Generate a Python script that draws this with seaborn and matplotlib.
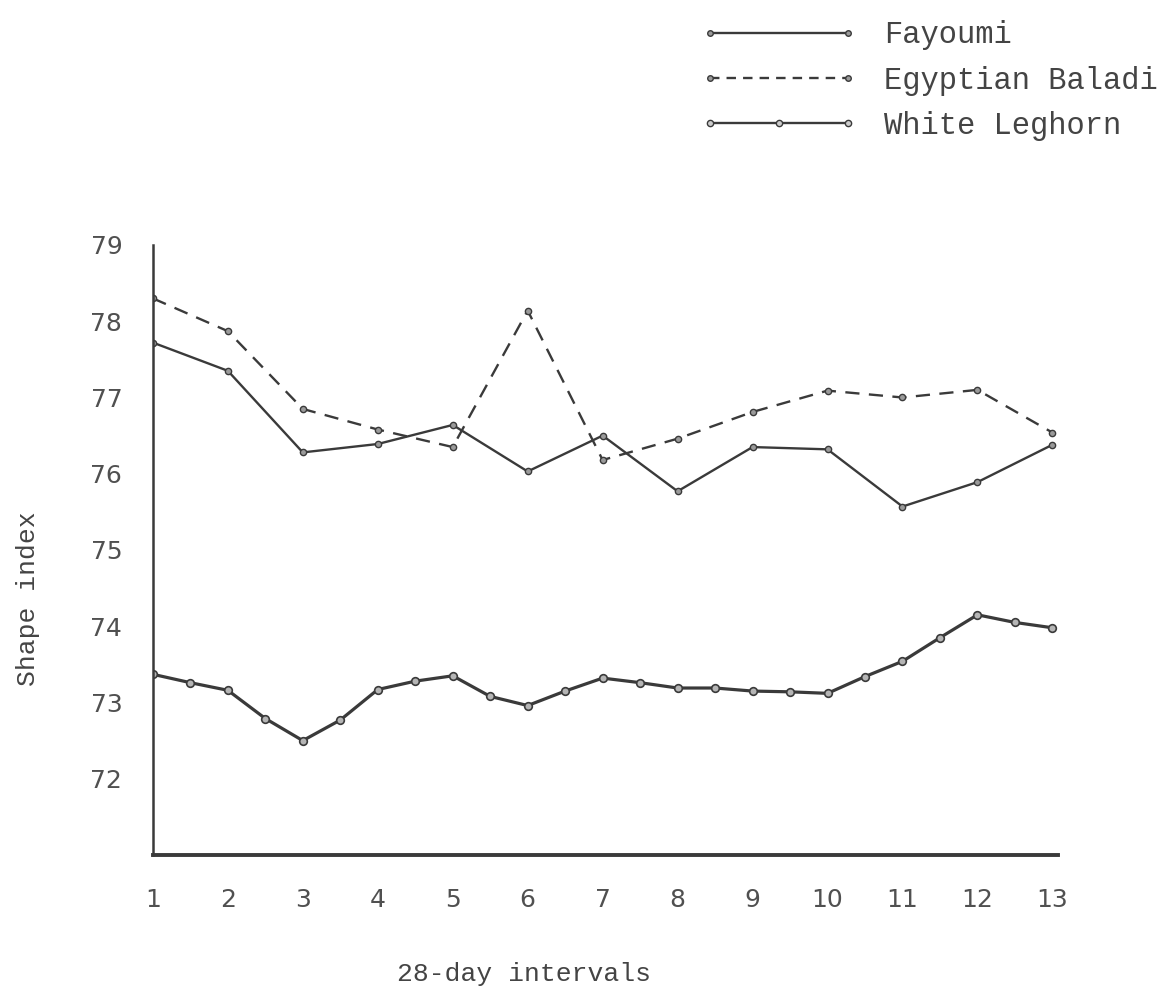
import matplotlib
matplotlib.use('Agg')
import matplotlib.pyplot as plt
import seaborn as sns
from matplotlib.lines import Line2D
from matplotlib.legend_handler import HandlerLine2D

# values (shape index per 28-day interval)
intervals = [1, 2, 3, 4, 5, 6, 7, 8, 9, 10, 11, 12, 13]
fayoumi = [77.72, 77.35, 76.28, 76.39, 76.64, 76.03, 76.50, 75.77, 76.35, 76.32, 75.57, 75.89, 76.38]
baladi = [78.30, 77.87, 76.85, 76.58, 76.35, 78.14, 76.18, 76.46, 76.81, 77.09, 77.00, 77.10, 76.54]

# White Leghorn is plotted at half-interval steps
leghorn_x = [1, 1.5, 2, 2.5, 3, 3.5, 4, 4.5, 5, 5.5, 6, 6.5, 7,
             7.5, 8, 8.5, 9, 9.5, 10, 10.5, 11, 11.5, 12, 12.5, 13]
leghorn = [73.37, 73.26, 73.16, 72.79, 72.50, 72.77, 73.17, 73.28, 73.35, 73.08, 72.96, 73.15, 73.32,
           73.26, 73.19, 73.19, 73.15, 73.14, 73.12, 73.34, 73.54, 73.85, 74.15, 74.05, 73.98]

y_ticks = [72, 73, 74, 75, 76, 77, 78, 79]

sns.set_style('white')
plt.rcParams['font.family'] = ['Liberation Mono', 'DejaVu Sans Mono']

ink = '#3a3a3a'
num_font = dict(family='DejaVu Sans', size=18, color='#505050')

fig = plt.figure(figsize=(11.76, 10.02), dpi=100)
ax = fig.add_axes([0.130, 0.1467, 0.770, 0.6088])

sns.lineplot(x=intervals, y=fayoumi, ax=ax, color=ink, lw=1.7,
             marker='o', ms=4.5, mfc='#9a9a9a', mec=ink, mew=1.0)
sns.lineplot(x=intervals, y=baladi, ax=ax, color=ink, lw=1.7, linestyle=(0, (6, 4)),
             marker='o', ms=4.5, mfc='#9a9a9a', mec=ink, mew=1.0)
sns.lineplot(x=leghorn_x, y=leghorn, ax=ax, color=ink, lw=2.3,
             marker='o', ms=5.5, mfc='#b5b5b5', mec=ink, mew=1.2)

ax.set_xlim(1, 13.08)
ax.set_ylim(71, 79)
ax.set_xticks(intervals)
ax.set_xticklabels([str(i) for i in intervals], fontdict=num_font)
ax.set_yticks(y_ticks)
ax.set_yticklabels([str(v) for v in y_ticks], fontdict=num_font)

for s in ['top', 'right']:
    ax.spines[s].set_visible(False)
ax.spines['left'].set_linewidth(1.8)
ax.spines['left'].set_color(ink)
ax.spines['bottom'].set_linewidth(2.8)
ax.spines['bottom'].set_color(ink)

ax.tick_params(axis='y', direction='in', length=5, width=1.4, color=ink, pad=22)
ax.tick_params(axis='x', direction='in', length=8, width=1.4, color=ink, pad=24)

ax.set_ylabel('Shape index', fontsize=19, color='#444')
ax.set_xlabel('28-day intervals', fontsize=19, color='#444')
ax.yaxis.set_label_coords(-0.125, 0.42)
ax.xaxis.set_label_coords(0.41, -0.175)

# legend above the plot, top right
h_fay = Line2D([], [], color=ink, lw=1.7, marker='o', ms=4, mfc='#9a9a9a', mec=ink)
h_bal = Line2D([], [], color=ink, lw=1.7, linestyle=(0, (4, 3)), marker='o', ms=4, mfc='#9a9a9a', mec=ink)
h_wl = Line2D([], [], color=ink, lw=1.7, marker='o', ms=4.5, mfc='#cccccc', mec=ink)
fig.legend([h_fay, h_bal, h_wl], ['Fayoumi', 'Egyptian Baladi', 'White Leghorn'],
           loc='upper left', bbox_to_anchor=(0.583, 0.995), frameon=False,
           fontsize=22, labelcolor='#444', handlelength=5.1, handletextpad=0.9,
           labelspacing=0.5, borderpad=0, numpoints=2,
           handler_map={h_wl: HandlerLine2D(numpoints=3)})

fig.savefig('out.png', dpi=100, facecolor='white')
